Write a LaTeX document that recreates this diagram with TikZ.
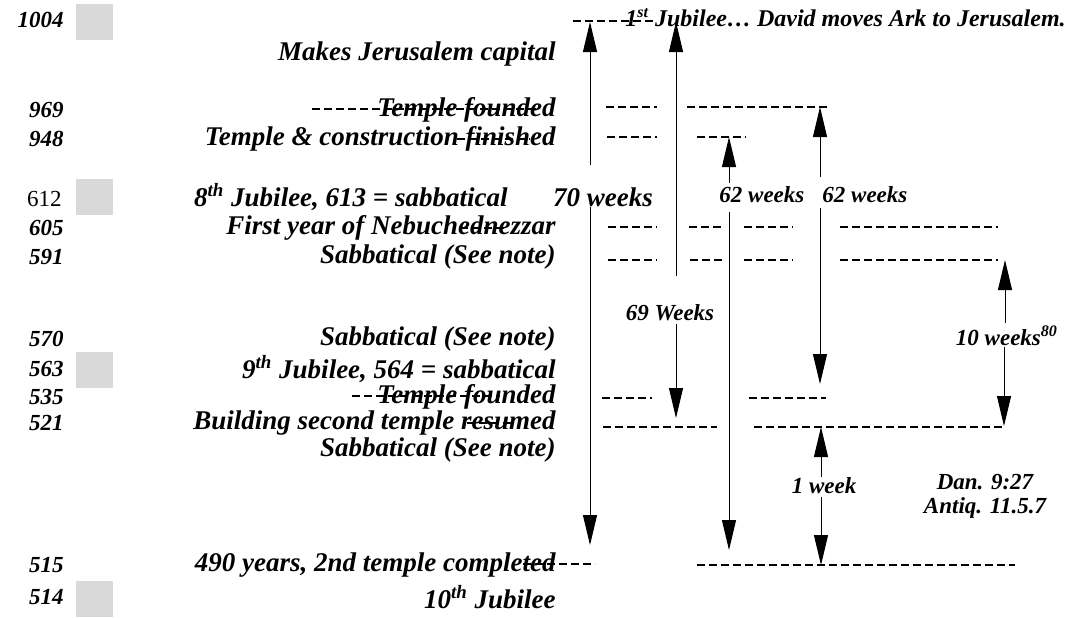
\documentclass[tikz,border=0pt]{standalone}
\usepackage{fontspec}
\setmainfont{Liberation Serif}
\usetikzlibrary{arrows.meta}
\begin{document}
\begin{tikzpicture}[x=0.5pt,y=-0.5pt,
  lt/.style={anchor=east, inner sep=0pt, font=\bfseries\itshape\fontsize{13.5}{15}\selectfont},
  num/.style={anchor=east, inner sep=0pt, font=\bfseries\itshape\fontsize{11.5}{13}\selectfont},
  numr/.style={anchor=east, inner sep=0pt, font=\fontsize{11.5}{13}\selectfont},
  lbl/.style={inner sep=0pt, font=\bfseries\itshape\fontsize{11.5}{13}\selectfont},
  lblbig/.style={inner sep=0pt, font=\bfseries\itshape\fontsize{13.5}{15}\selectfont},
  lbltop/.style={inner sep=0pt, font=\bfseries\itshape\fontsize{12}{14}\selectfont},
  dl/.style={line width=0.65pt, dash pattern=on 4pt off 2pt},
  arr/.style={line width=0.5pt, -{Triangle[length=15pt,width=7pt]}},
  sq/.style={fill=black!15, draw=none, inner sep=0pt, minimum width=18.5pt, minimum height=18pt}
]
\useasboundingbox (0,0) rectangle (1081,617);

% grey squares
\node[sq] (s1004) at (94.5,22) {};
\node[sq] (s612) at (94.5,197) {};
\node[sq] (s563) at (94.5,370) {};
\node[sq] (s514) at (94.5,599) {};

% year numbers
\node[num]  (n1004) at (64,20)  {1004};
\node[num]  (n969)  at (64,110) {969};
\node[num]  (n948)  at (64,139) {948};
\node[numr] (n612)  at (62,199) {612};
\node[num]  (n605)  at (64,228) {605};
\node[num]  (n591)  at (64,257) {591};
\node[num]  (n570)  at (64,339) {570};
\node[num]  (n563)  at (64,369) {563};
\node[num]  (n535)  at (64,397) {535};
\node[num]  (n521)  at (64,423) {521};
\node[num]  (n515)  at (64,565) {515};
\node[num]  (n514)  at (64,597) {514};

% event texts
\node[lt] (tcap)  at (556,54)  {Makes Jerusalem capital};
\node[lt] (t969)  at (556,110) {Temple founded};
\node[lt] (t948)  at (556,139) {Temple \& construction finished};
\node[lt] (t612)  at (508,197) {8\textsuperscript{th} Jubilee, 613 = sabbatical};
\node[lt] (t605)  at (556,228) {First year of Nebuchednezzar};
\node[lt] (t591)  at (556,257) {Sabbatical (See note)};
\node[lt] (t570)  at (556,339) {Sabbatical (See note)};
\node[lt] (t563)  at (556,369) {9\textsuperscript{th} Jubilee, 564 = sabbatical};
\node[lt] (t535)  at (556,397) {Temple founded};
\node[lt] (t521)  at (556,423) {Building second temple resumed};
\node[lt] (tsab)  at (556,450) {Sabbatical (See note)};
\node[lt] (t515)  at (556,565) {490 years, 2nd temple completed};
\node[lt] (t514)  at (556,597) {10\textsuperscript{th} Jubilee};
\node[lbltop, anchor=west] (ttop) at (625,18) {1\textsuperscript{st} Jubilee… David moves Ark to Jerusalem.};

% period labels
\node[lblbig] (l70)  at (603,197) {70 weeks};
\node[lbl] (l69)  at (670,313) {69 Weeks};
\node[lbl, anchor=west] (l62a) at (719,195) {62 weeks};
\node[lbl, anchor=west] (l62b) at (822,195) {62 weeks};
\node[lbl] (l10)  at (1007,336) {10 weeks\textsuperscript{80}};
\node[lbl] (l1)   at (824,486) {1 week};
\node[lbl] (ldan) at (985,482) {Dan. 9:27};
\node[lbl] (lant) at (985,508) {Antiq. 11.5.7};

% dashed rows (incl. dashes running over the texts)
\draw[dl] (573,21) -- (655,21);
\draw[dl] (312,109) -- (540,109);
\draw[dl] (457,139) -- (530,139);
\draw[dl] (460,228) -- (507,228);
\draw[dl] (352,396) -- (500,396);
\draw[dl] (467,423) -- (513,423);
\draw[dl] (523,564) -- (595,564);

\draw[dl] (606,107) -- (657,107);
\draw[dl] (687,107) -- (830,107);
\draw[dl] (607,137) -- (657,137);
\draw[dl] (697,137) -- (746,137);
\draw[dl] (608,227) -- (657,227);
\draw[dl] (689,227) -- (723,227);
\draw[dl] (744,227) -- (793,227);
\draw[dl] (840,227) -- (998,227);
\draw[dl] (608,260) -- (657,260);
\draw[dl] (690,260) -- (724,260);
\draw[dl] (744,260) -- (793,260);
\draw[dl] (840,260) -- (998,260);
\draw[dl] (602,398) -- (652,398);
\draw[dl] (749,398) -- (826,398);
\draw[dl] (603,427) -- (717,427);
\draw[dl] (754,427) -- (1005,427);
\draw[dl] (697,565) -- (1015,565);

% arrow end points
\coordinate (a70s) at (590,165); \coordinate (a70t) at (590,22);
\coordinate (a70d) at (590,207); \coordinate (a70b) at (590,545);
\coordinate (a69s) at (676,276); \coordinate (a69t) at (676,22);
\coordinate (a69d) at (676,324); \coordinate (a69b) at (676,418);
\coordinate (a62s) at (729,183); \coordinate (a62t) at (729,137);
\coordinate (a62d) at (729,212); \coordinate (a62b) at (729,550);
\coordinate (b62s) at (820,177); \coordinate (b62t) at (820,107);
\coordinate (b62d) at (820,208); \coordinate (b62b) at (820,384);
\coordinate (a10s) at (1005,323); \coordinate (a10t) at (1005,260);
\coordinate (a10d) at (1004,347); \coordinate (a10b) at (1004,426);
\coordinate (a1s)  at (821,477); \coordinate (a1t)  at (821,427);
\coordinate (a1d)  at (821,497); \coordinate (a1b)  at (821,565);

\draw[arr] (a70s) -- (a70t);
\draw[arr] (a70d) -- (a70b);
\draw[arr] (a69s) -- (a69t);
\draw[arr] (a69d) -- (a69b);
\draw[arr] (a62s) -- (a62t);
\draw[arr] (a62d) -- (a62b);
\draw[arr] (b62s) -- (b62t);
\draw[arr] (b62d) -- (b62b);
\draw[arr] (a10s) -- (a10t);
\draw[arr] (a10d) -- (a10b);
\draw[arr] (a1s) -- (a1t);
\draw[arr] (a1d) -- (a1b);
\end{tikzpicture}
\end{document}
